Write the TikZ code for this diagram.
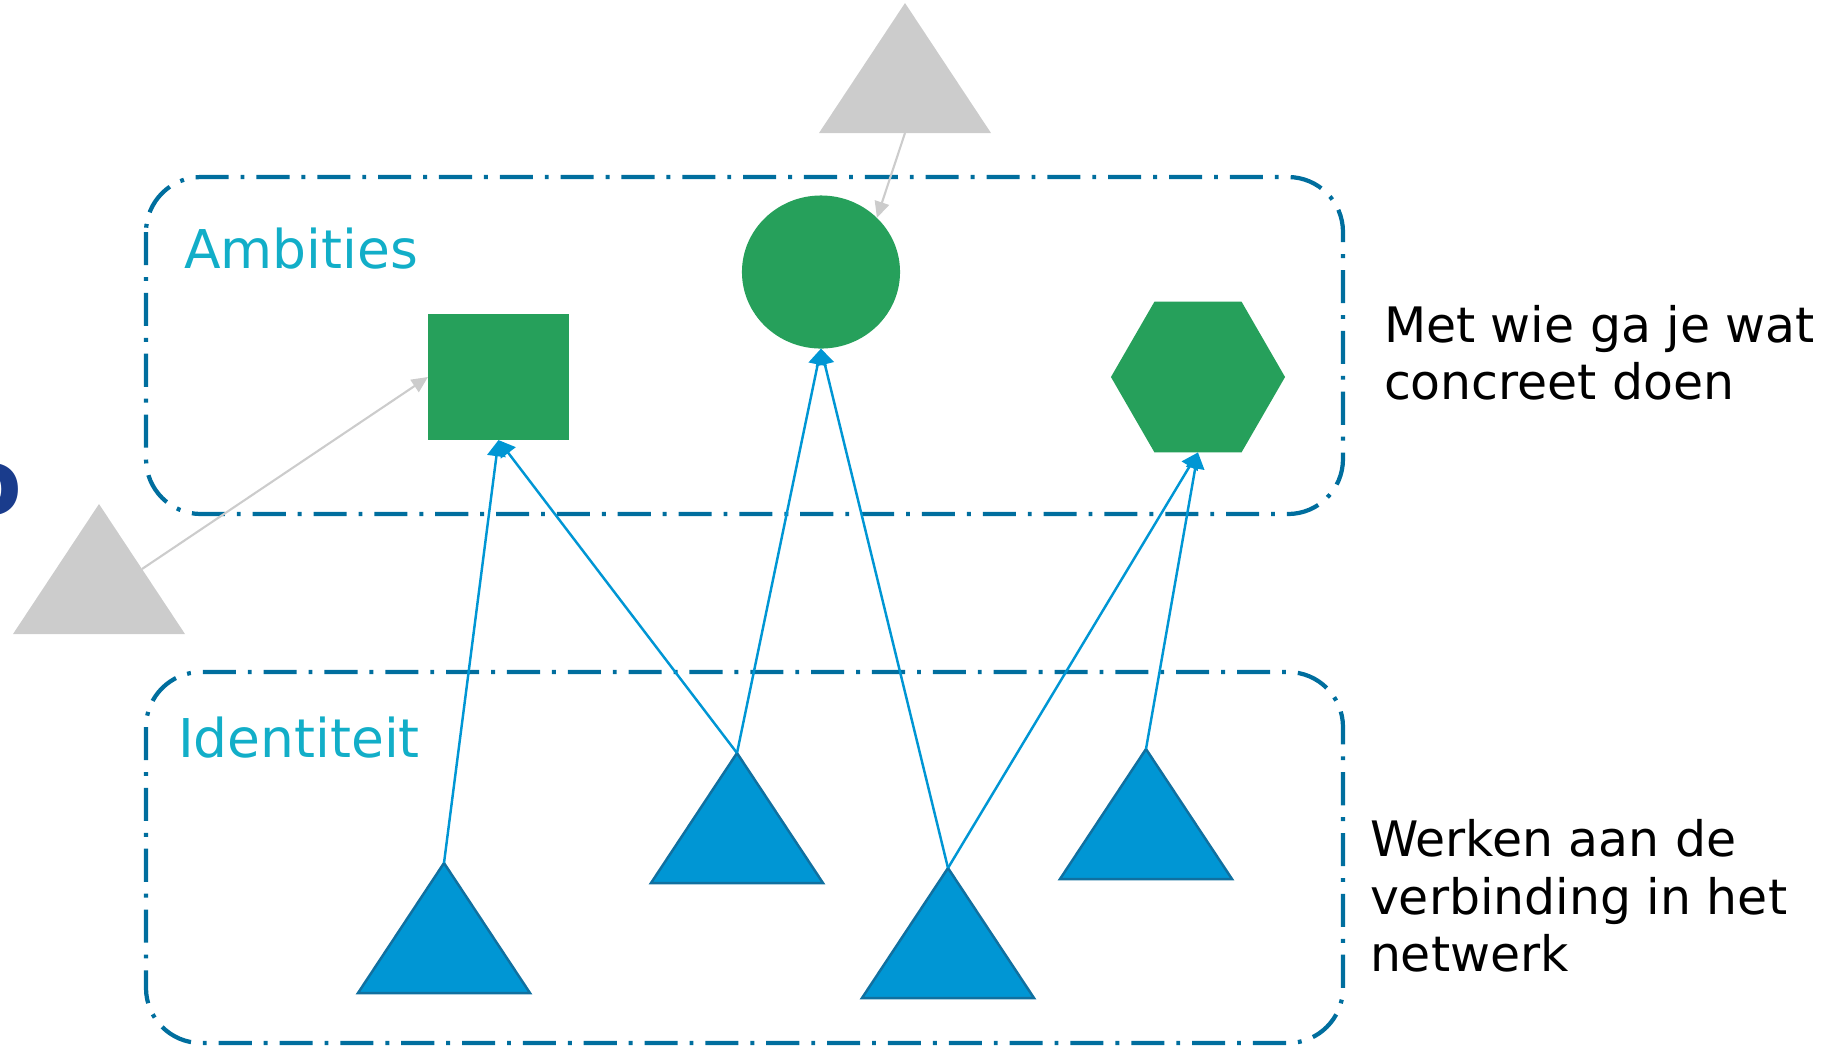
\documentclass[tikz,border=0pt]{standalone}
\usepackage{fontspec}
\setmainfont{DejaVu Sans}
\usetikzlibrary{arrows.meta,shapes.geometric}

\definecolor{ambgreen}{RGB}{38,160,91}
\definecolor{idblue}{RGB}{0,150,212}
\definecolor{idedge}{RGB}{16,112,160}
\definecolor{zoneblue}{RGB}{0,110,158}
\definecolor{labelcyan}{RGB}{18,174,200}
\definecolor{shade}{RGB}{204,204,204}
\definecolor{titleblue}{RGB}{26,60,140}

% triangle with its apex at (x,y): name, x, y, style
\newcommand{\drawtri}[4]{%
  \fill[#4] (#2,#3) -- ++(-86,130) -- ++(172,0) -- cycle;
  \coordinate (#1) at (#2,#3);
  \path (#2,#3) ++(0,130) coordinate (#1-base);
  \path (#2,#3) ++(43,65) coordinate (#1-side);}

\begin{document}
\begin{tikzpicture}
	[x=0.01cm,y=-0.01cm,>={Triangle[length=4.6pt,width=5.2pt]},
	 every node/.style={inner sep=0pt,outer sep=0pt},
	 zone/.style={draw=zoneblue,line width=1.2pt,rounded corners=0.55cm,
	   dash pattern=on 9.4pt off 3.4pt on 1.1pt off 3.4pt},
	 greenshape/.style={fill=ambgreen},
	 bluetri/.style={fill=idblue,draw=idedge,line width=0.7pt},
	 greytri/.style={fill=shade},
	 link/.style={->,draw=idblue,line width=0.7pt},
	 greylink/.style={-{Triangle[length=4.6pt,width=4.2pt]},draw=shade,line width=0.6pt},
	 zonelabel/.style={anchor=base west,text=labelcyan,font=\fontsize{15.2}{18}\selectfont},
	 note/.style={anchor=west,align=left,font=\fontsize{13.9}{16.3}\selectfont}]
	\useasboundingbox (0,0) rectangle (1847,1050);

	\node[anchor=base east,text=titleblue,font=\fontsize{26}{30}\selectfont\bfseries] (title) at (22,514) {o};

	\draw[zone] (146,177) rectangle (1343,514);
	\draw[zone] (146,672) rectangle (1343,1043);
	\node[zonelabel] (amb) at (184,268) {Ambities};
	\node[zonelabel] (ident) at (178,757) {Identiteit};

	\node[greenshape,minimum width=1.41cm,minimum height=1.26cm] (sq) at (498.5,377) {};
	\node[greenshape,ellipse,minimum width=1.58cm,minimum height=1.53cm] (circ) at (821,272) {};
	\node[greenshape,regular polygon,regular polygon sides=6,minimum size=1.74cm] (hex) at (1198,377) {};

	\drawtri{g1}{99}{504}{greytri}
	\drawtri{g2}{905}{3}{greytri}
	\drawtri{t1}{444}{863}{bluetri}
	\drawtri{t2}{737}{753}{bluetri}
	\drawtri{t3}{948}{868}{bluetri}
	\drawtri{t4}{1146}{749}{bluetri}

	\draw[greylink] (g1-side) -- (sq.west);
	\draw[greylink] (g2-base) -- (circ.north east);
	\draw[link] (t1) -- (sq.south);
	\draw[link] (t2) -- (sq.south);
	\draw[link] (t2) -- (circ.south);
	\draw[link] (t3) -- (circ.south);
	\draw[link] (t3) -- (hex.south);
	\draw[link] (t4) -- (hex.south);

	\node[note] (what) at (1384,353) {Met wie ga je wat\\concreet doen};
	\node[note] (how) at (1370,896) {Werken aan de\\verbinding in het\\netwerk};
\end{tikzpicture}
\end{document}
